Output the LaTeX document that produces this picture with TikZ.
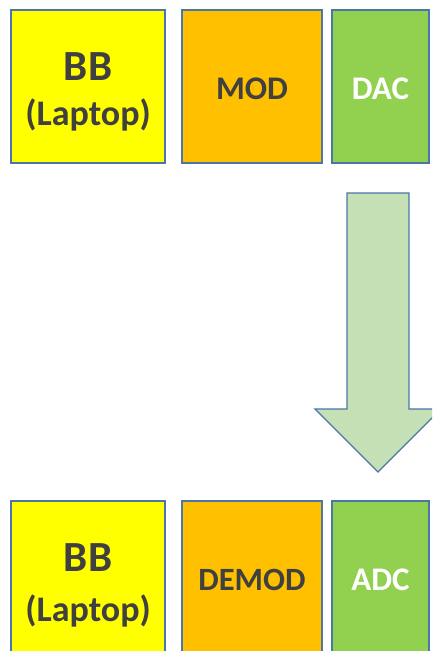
\documentclass[tikz,border=0pt]{standalone}
\usepackage{fontspec}
\setmainfont{Carlito}
\definecolor{edge}{HTML}{4A76A8}
\definecolor{txt}{HTML}{404040}
\definecolor{bbfill}{HTML}{FFFF00}
\definecolor{modfill}{HTML}{FFC000}
\definecolor{cvfill}{HTML}{92D050}
\definecolor{arrfill}{HTML}{C5E0B4}
\tikzset{
  blk/.style={draw=edge, line width=1.3pt, inner sep=0pt, outer sep=0pt},
  bb/.style={blk, fill=bbfill, minimum width=154pt, minimum height=153pt},
  md/.style={blk, fill=modfill, minimum width=140pt, minimum height=153pt},
  cv/.style={blk, fill=cvfill, minimum width=97pt, minimum height=153pt},
  lbl/.style={font=\bfseries, text=txt, anchor=base, inner sep=0pt},
  wlbl/.style={lbl, text=white},
  big/.style={font=\bfseries\fontsize{43}{46}\selectfont},
  mid/.style={font=\bfseries\fontsize{36}{40}\selectfont},
  std/.style={font=\bfseries\fontsize{33}{36}\selectfont},
}
\begin{document}
\begin{tikzpicture}[x=1pt,y=-1pt]
\useasboundingbox (0,0) rectangle (432,651);
\clip (0,0) rectangle (432,651);
% top row
\node[bb] (bb1) at (88,86.5) {};
\node[md] (mod) at (252,86.5) {};
\node[cv] (dac) at (380.5,86.5) {};
\node[lbl, big] (bb1a) at (88,80) {BB};
\node[lbl, mid] (bb1b) at (88,125) {(Laptop)};
\node[lbl, std] (modt) at (252,99) {MOD};
\node[wlbl, std] (dact) at (380.5,99) {DAC};
% bottom row
\node[bb, anchor=north] (bb2) at (88,501) {};
\node[md, anchor=north] (demod) at (252,501) {};
\node[cv, anchor=north] (adc) at (380.5,501) {};
\node[lbl, big] (bb2a) at (88,571.5) {BB};
\node[lbl, mid] (bb2b) at (88,621.5) {(Laptop)};
\node[lbl, font=\bfseries\fontsize{32.5}{36}\selectfont] (demodt) at (252,590) {DEMOD};
\node[wlbl, font=\bfseries\fontsize{33}{36}\selectfont] (adct) at (380.5,590) {ADC};
% block arrow
\draw[draw=edge, line width=1.3pt, fill=arrfill, line join=miter]
  (347,193) -- (409,193) -- (409,409) -- (441,409) -- (378,472) -- (315,409) -- (347,409) -- cycle;
\end{tikzpicture}
\end{document}
